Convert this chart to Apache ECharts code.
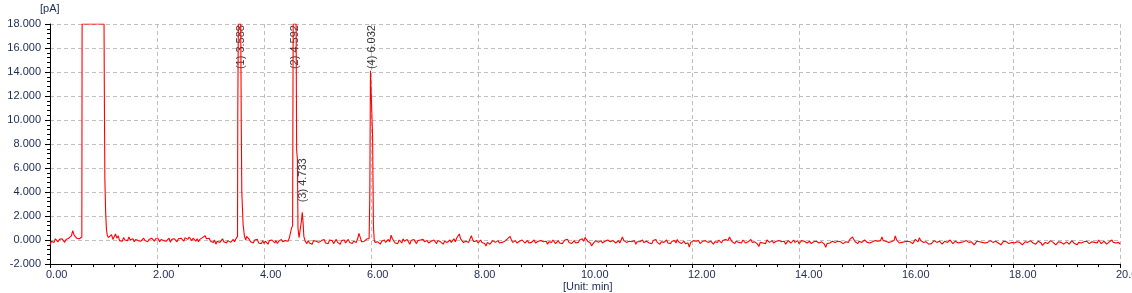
<!DOCTYPE html>
<html>
<head>
<meta charset="utf-8">
<script src="https://cdn.jsdelivr.net/npm/echarts@6/dist/echarts.min.js"></script>
<style>
html,body{margin:0;padding:0;background:#fff;}
#c{width:1132px;height:293px;}
</style>
</head>
<body>
<div id="c"></div>
<script>
// ---- data ----
var baseStep = 0.025; // baseline sampling interval (min)
var baseline = [
// 0
-0.40,-0.10,0.05,-0.20,0.10,-0.05,-0.15,0.05,-0.10,0.10,
-0.05,-0.20,0.05,-0.05,0.15,0.05,0.35,0.78,0.40,0.55,
0.15,0.30,0.10,0.25,null,null,null,null,null,null,
null,null,null,null,null,null,null,null,null,null,
// 1
null,null,null,null,0.15,0.30,0.45,0.05,0.20,0.50,
0.15,0.35,-0.05,0.10,-0.10,0.20,0.00,0.15,-0.05,0.25,
0.00,-0.10,0.10,-0.15,0.05,0.20,-0.05,0.10,-0.10,0.05,
0.15,-0.05,0.10,-0.15,0.05,-0.05,0.15,0.00,-0.10,0.10,
// 2
-0.05,0.10,-0.15,0.05,0.15,-0.05,0.10,-0.10,0.00,0.15,
-0.20,0.05,-0.05,0.10,0.00,-0.15,0.10,-0.05,0.15,0.00,
-0.10,0.20,0.35,0.05,0.25,0.10,-0.05,0.15,0.00,-0.10,
0.10,-0.15,0.05,-0.05,0.20,0.05,0.35,0.10,0.00,0.15,
// 3
-0.10,0.05,-0.20,0.00,-0.35,-0.10,0.05,-0.20,-0.05,0.10,
-0.15,0.00,-0.25,-0.05,0.05,-0.20,-0.10,0.05,-0.15,0.10,
null,null,null,null,null,null,null,0.30,0.15,0.05,
-0.15,-0.05,-0.25,0.00,-0.15,0.05,-0.25,-0.10,-0.30,-0.05,
// 4
-0.30,-0.10,-0.20,-0.35,-0.05,-0.20,0.00,-0.15,-0.25,-0.05,
-0.30,-0.10,-0.20,0.05,-0.15,-0.30,-0.05,0.05,-0.10,0.20,
null,null,null,null,null,null,null,null,null,null,
null,-0.15,-0.30,-0.05,-0.25,-0.10,-0.35,-0.05,-0.20,-0.10,
// 5
0.00,-0.20,-0.30,-0.05,-0.15,0.05,-0.25,-0.10,-0.30,0.00,
-0.15,-0.05,-0.30,-0.15,0.05,-0.20,-0.10,-0.35,-0.05,-0.15,
0.00,-0.25,-0.10,0.05,-0.20,-0.05,-0.30,-0.10,0.00,-0.20,
0.10,0.55,0.20,-0.15,0.00,-0.10,0.05,0.10,0.05,null,
// 6
null,null,null,null,-0.30,-0.15,-0.05,-0.35,-0.10,-0.25,
0.00,-0.20,-0.05,0.05,-0.15,0.40,0.10,-0.05,-0.25,-0.10,
-0.30,0.00,-0.15,-0.25,0.10,-0.10,-0.20,0.05,-0.15,-0.35,
-0.05,-0.20,0.05,-0.10,-0.30,-0.05,-0.20,0.00,-0.15,0.05,
// 7
-0.15,-0.30,-0.05,-0.25,-0.35,-0.10,-0.20,0.00,-0.15,-0.30,
-0.05,0.10,-0.15,-0.25,-0.35,-0.10,0.05,-0.20,-0.10,0.00,
-0.20,-0.05,0.10,-0.15,0.15,0.05,0.50,0.10,-0.05,-0.20,
-0.30,-0.10,0.00,-0.20,-0.10,0.35,0.05,-0.15,-0.25,-0.05,
// 8
-0.25,-0.10,0.00,-0.20,-0.10,-0.30,-0.50,-0.20,-0.10,-0.35,
-0.30,-0.05,0.00,-0.20,-0.15,-0.05,-0.25,-0.10,-0.20,-0.05,
-0.10,0.05,0.10,-0.05,0.30,0.00,-0.20,-0.10,-0.05,-0.25,
-0.30,-0.10,-0.15,0.00,-0.10,-0.25,-0.15,-0.05,-0.25,-0.10,
// 9
-0.20,-0.05,0.00,-0.25,-0.30,-0.10,-0.20,-0.05,0.05,-0.15,
-0.25,-0.10,-0.35,-0.15,-0.05,-0.20,0.00,-0.10,-0.30,-0.20,
-0.05,-0.25,-0.10,-0.30,-0.15,0.00,-0.10,0.05,-0.20,-0.05,
-0.30,-0.15,-0.05,-0.25,-0.10,-0.20,0.00,-0.05,0.10,-0.10,
// 10
0.20,0.05,-0.10,-0.20,-0.25,-0.50,-0.30,-0.15,-0.05,0.00,
-0.20,-0.10,-0.05,-0.25,-0.30,-0.10,-0.15,0.00,0.05,-0.15,
-0.20,-0.05,-0.10,-0.25,-0.15,-0.05,-0.25,0.00,0.25,-0.05,
-0.10,-0.20,-0.30,-0.10,0.00,-0.15,-0.20,-0.05,-0.35,-0.15,
// 11
-0.05,-0.15,-0.25,0.00,-0.20,-0.30,-0.10,-0.05,-0.25,-0.15,
-0.30,-0.05,-0.15,0.05,-0.20,-0.10,-0.35,-0.15,-0.05,-0.20,
-0.10,0.00,-0.25,-0.15,-0.30,-0.10,-0.20,-0.05,-0.25,0.05,
-0.15,-0.05,-0.30,-0.20,-0.10,-0.30,-0.15,-0.25,-0.60,-0.20,
// 12
-0.15,-0.05,0.05,-0.10,-0.20,-0.05,-0.30,-0.15,-0.10,-0.25,
-0.05,0.05,-0.20,-0.30,-0.10,-0.25,-0.35,-0.15,-0.05,-0.20,
0.00,-0.15,-0.25,-0.05,-0.15,0.05,0.10,-0.05,0.25,0.05,
-0.15,-0.20,-0.30,-0.10,-0.05,-0.20,-0.10,-0.25,0.00,-0.10,
// 13
-0.25,-0.10,-0.15,-0.05,0.05,-0.20,-0.30,-0.15,-0.25,-0.35,
-0.55,-0.20,-0.10,-0.25,-0.15,-0.30,0.00,-0.10,-0.20,-0.05,
-0.05,-0.25,-0.30,-0.10,-0.15,-0.05,0.05,-0.15,-0.20,-0.10,
-0.35,-0.25,-0.05,-0.15,-0.25,-0.10,0.00,-0.20,-0.15,-0.05,
// 14
-0.30,-0.15,-0.05,-0.20,-0.10,0.00,-0.25,-0.15,-0.10,-0.30,
-0.35,-0.15,-0.05,-0.10,-0.20,-0.25,-0.30,-0.15,-0.20,-0.35,
-0.60,-0.30,-0.15,-0.25,-0.30,-0.10,-0.05,-0.20,-0.25,-0.10,
0.00,-0.15,-0.20,-0.30,-0.35,-0.15,-0.10,-0.20,0.05,-0.05,
// 15
0.25,0.05,-0.15,-0.25,-0.30,-0.10,-0.05,-0.20,-0.25,0.00,
-0.10,-0.20,-0.35,-0.25,-0.10,-0.15,-0.25,-0.05,-0.20,-0.10,
0.05,-0.05,0.25,-0.05,-0.20,-0.10,-0.05,-0.20,-0.30,-0.15,
-0.10,-0.05,0.35,0.00,-0.15,-0.25,-0.30,-0.20,-0.10,-0.15,
// 16
0.00,-0.10,-0.25,-0.15,-0.10,-0.30,-0.20,0.05,-0.05,-0.15,
0.20,-0.05,-0.05,-0.20,-0.25,-0.15,-0.10,-0.35,-0.20,-0.30,
-0.15,-0.05,0.00,-0.20,-0.25,-0.10,-0.15,-0.35,-0.30,-0.10,
-0.05,-0.20,-0.25,0.00,-0.15,-0.30,-0.20,-0.10,-0.15,-0.25,
// 17
-0.35,-0.20,-0.10,-0.15,-0.25,-0.05,0.00,-0.20,-0.30,-0.15,
-0.20,-0.40,-0.25,-0.10,-0.05,-0.15,-0.30,-0.20,-0.10,-0.25,
-0.35,-0.20,-0.15,-0.05,0.00,-0.20,-0.30,-0.10,-0.15,-0.25,
-0.20,-0.40,-0.30,-0.10,-0.05,-0.15,-0.20,-0.30,-0.35,-0.20,
// 18
-0.10,-0.25,-0.30,-0.15,-0.05,-0.20,-0.25,-0.40,-0.30,-0.15,
-0.10,-0.20,-0.30,-0.05,-0.15,-0.25,-0.20,-0.35,-0.30,-0.10,
-0.15,-0.25,-0.45,-0.30,-0.20,-0.15,-0.30,-0.25,-0.05,-0.10,
-0.20,-0.25,-0.40,-0.30,-0.15,-0.10,-0.20,-0.25,-0.35,-0.30,
// 19
-0.15,-0.25,-0.35,-0.20,-0.05,-0.15,-0.30,-0.25,-0.40,-0.20,
-0.10,-0.25,-0.30,-0.15,0.00,-0.10,-0.20,-0.30,-0.35,-0.15,
-0.05,-0.20,-0.30,-0.25,0.00,-0.10,-0.30,-0.20,-0.10,-0.25,
-0.35,-0.30,-0.15,-0.05,0.00,-0.20,-0.30,-0.25,-0.15,-0.20,
// 20
-0.35
];

// detector-saturated injection/solvent peak and analyte peaks [time (min), pA]
var peakSolvent = [[0.595,0.25],[0.60,18],[1.01,18],[1.015,13.0],[1.025,5.2],[1.04,2.3],[1.055,0.9],[1.07,0.4],[1.09,0.2]];
var peak1 = [[3.49,0.1],[3.505,0.3],[3.51,10.6],[3.52,18],[3.565,18],[3.575,9.6],[3.585,4.0],[3.61,1.25],[3.635,0.3],[3.66,0.0]];
var peak23 = [[4.50,0.3],[4.515,1.0],[4.535,1.2],[4.545,18],[4.60,18],[4.61,7.5],[4.625,6.7],[4.635,1.0],[4.655,0.2],[4.68,0.3],[4.70,1.6],[4.715,2.3],[4.73,1.5],[4.745,0.3],[4.77,-0.1]];
var peak4 = [[5.965,0.1],[5.975,0.2],[5.978,3.75],[5.99,14.1],[6.025,14.1],[6.03,8.6],[6.045,1.2],[6.06,0.0],[6.075,-0.2]];

var peakNames = ['(1) 3.588','(2) 4.592','(3) 4.733','(4) 6.032'];
var peakTimes = [3.588, 4.592, 4.733, 6.032];
var peakHeights = [18, 18, 2.3, 14.1];

var xTicks = [0,2,4,6,8,10,12,14,16,18,20];
var yTicks = [-2,0,2,4,6,8,10,12,14,16,18];

// ---- build the trace ----
var peaks = [peakSolvent, peak1, peak23, peak4];
var pts = [];
baseline.forEach(function(v, i){
  if (v === null) return;
  var t = +(i * baseStep).toFixed(3);
  for (var k = 0; k < peaks.length; k++) {
    var p = peaks[k];
    if (t >= p[0][0] && t <= p[p.length-1][0]) return;
  }
  pts.push([t, v]);
});
peaks.forEach(function(p){ p.forEach(function(q){ pts.push(q); }); });
pts.sort(function(a,b){ return a[0]-b[0]; });

var labelPts = peakTimes.map(function(t, i){
  return { value: [t, Math.min(peakHeights[i] + 0.8, 14.2)], name: peakNames[i] };
});

var axisText = '#1c2a55';
var font = 'Liberation Sans, Arial, sans-serif';
var chart = echarts.init(document.getElementById('c'), null, {renderer:'canvas'});
chart.setOption({
  animation: false,
  backgroundColor: '#ffffff',
  grid: { left: 50, right: 12, top: 24, bottom: 29, containLabel: false, outerBoundsMode: 'none' },
  graphic: [
    { type:'text', left: 40, top: 3, style:{ text:'[pA]', font:'11px ' + font, fill: axisText } },
    { type:'text', left: 563, top: 281, style:{ text:'[Unit: min]', font:'11px ' + font, fill: axisText } }
  ],
  xAxis: {
    type: 'value', min: xTicks[0], max: xTicks[xTicks.length-1], interval: 2,
    axisLine: { show: true, onZero: false, lineStyle: { color: '#000', width: 1 } },
    axisTick: { show: true, length: 4, lineStyle: { color: '#000' } },
    minorTick: { show: true, splitNumber: 5, length: 3, lineStyle: { color: '#000' } },
    axisLabel: { margin: 5, align: 'left', padding: [0,0,0,-4], color: axisText, fontSize: 11, fontFamily: font,
      hideOverlap: false, showMaxLabel: true,
      formatter: function(v){ return v.toFixed(2); } },
    splitLine: { show: true, lineStyle: { color: '#c0c0c0', type: [4,3], width: 1 } }
  },
  yAxis: {
    type: 'value', min: yTicks[0], max: yTicks[yTicks.length-1], interval: 2,
    axisLine: { show: true, onZero: false, lineStyle: { color: '#000', width: 1 } },
    axisTick: { show: true, length: 5, lineStyle: { color: '#000' } },
    minorTick: { show: true, splitNumber: 5, length: 3, lineStyle: { color: '#000' } },
    axisLabel: { margin: 9, color: axisText, fontSize: 11, fontFamily: font,
      formatter: function(v){ return v.toFixed(3); } },
    splitLine: { show: true, lineStyle: { color: '#c0c0c0', type: [4,3], width: 1 } }
  },
  series: [
    {
      type: 'line', data: pts, symbol: 'none', showSymbol: false, clip: true, sampling: null,
      lineStyle: { color: '#ff0000', width: 1.1 }, itemStyle: { color: '#ff0000' },
      silent: true
    },
    {
      type: 'scatter', data: labelPts, symbolSize: 1,
      itemStyle: { color: 'rgba(0,0,0,0)' }, silent: true,
      label: {
        show: true, formatter: function(p){ return p.name; },
        position: [0, 0], rotate: 90, align: 'left', verticalAlign: 'middle',
        color: '#000', fontSize: 11, fontFamily: font
      }
    }
  ]
});
</script>
</body>
</html>
